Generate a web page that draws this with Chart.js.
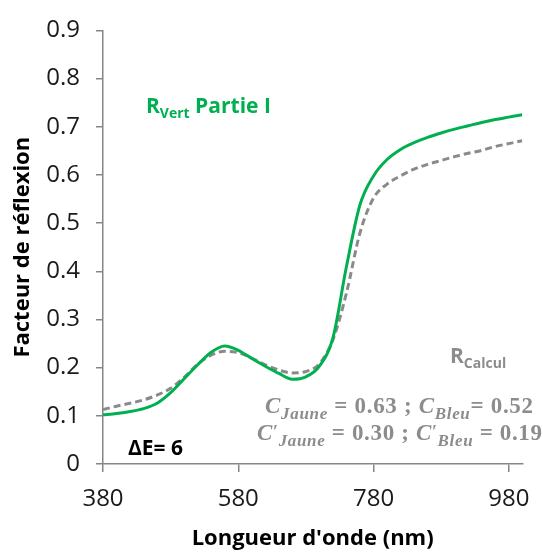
<!DOCTYPE html>
<html><head><meta charset="utf-8">
<script src="https://cdn.jsdelivr.net/npm/chart.js@4/dist/chart.umd.min.js"></script>
<style>html,body{margin:0;padding:0;background:#fff}#wrap{width:543px;height:553px}</style>
</head><body><div id="wrap"><canvas id="c" width="543" height="553"></canvas></div>
<script>
// Wavelength (nm)
const wavelengths = [380,400,420,440,460,480,500,520,540,560,580,600,620,640,660,680,700,720,740,760,780,800,820,840,860,880,900,920,940,960,980,1000];
// Measured reflectance R_Vert (green, solid)
const rVert = [0.102,0.105,0.109,0.115,0.126,0.148,0.177,0.206,0.232,0.245,0.236,0.219,0.203,0.188,0.176,0.181,0.203,0.262,0.410,0.538,0.598,0.632,0.653,0.667,0.678,0.687,0.695,0.702,0.709,0.715,0.720,0.725];
// Calculated reflectance R_Calcul (grey, dashed)
const rCalcul = [0.113,0.120,0.126,0.133,0.143,0.157,0.180,0.207,0.226,0.234,0.231,0.220,0.206,0.195,0.189,0.192,0.208,0.258,0.355,0.480,0.552,0.581,0.598,0.612,0.622,0.630,0.638,0.645,0.651,0.659,0.665,0.671];
const xTicks = [380,580,780,980];
const yTicks = [0,0.1,0.2,0.3,0.4,0.5,0.6,0.7,0.8,0.9];

const GREEN = '#00B050', GREY = '#8C8C8C', AXIS = '#868686';
const MATHFONT = '"Liberation Serif"';

function drawRuns(ctx, x, y, runs, ls){
  ls = ls || 0;
  let cx = x;
  for (const r of runs){
    ctx.font = r.font; ctx.fillStyle = r.color;
    for (const ch of r.t){
      ctx.fillText(ch, cx, y + (r.dy||0));
      cx += ctx.measureText(ch).width + ls;
    }
  }
  return cx - x;
}
function measureRuns(ctx, runs){let w=0,n=0;for(const r of runs){ctx.font=r.font;for(const ch of r.t){w+=ctx.measureText(ch).width;n++;}}return {w,n};}
function mathRuns(size, parts){
  const out=[];
  for (const p of parts){
    if (p.k==='C') out.push({t:p.t, font:`italic bold ${size}px ${MATHFONT}`, color:GREY});
    else if (p.k==='sub') out.push({t:p.t, font:`italic bold ${Math.round(size*0.72)}px ${MATHFONT}`, color:GREY, dy:size*0.28});
    else if (p.k==='sup') out.push({t:p.t, font:`bold ${Math.round(size*0.8)}px ${MATHFONT}`, color:GREY, dy:-size*0.1});
    else out.push({t:p.t, font:`bold ${size}px ${MATHFONT}`, color:GREY});
  }
  return out;
}

const annot = {
  id:'annot',
  afterDatasetsDraw(chart){
    const ctx = chart.ctx;
    ctx.save();
    ctx.textBaseline = 'alphabetic'; ctx.textAlign='left';
    drawRuns(ctx, 146, 113, [
      {t:'R', font:'bold 21px "Open Sans"', color:GREEN},
      {t:'Vert', font:'bold 14px "Open Sans"', color:GREEN, dy:5},
      {t:' Partie I', font:'bold 21px "Open Sans"', color:GREEN}
    ]);
    drawRuns(ctx, 450, 363, [
      {t:'R', font:'bold 21px "Open Sans"', color:GREY},
      {t:'Calcul', font:'bold 14px "Open Sans"', color:GREY, dy:5}
    ]);
    drawRuns(ctx, 128, 455, [{t:'ΔE= 6', font:'bold 21px "Open Sans"', color:'#000'}]);
    const size = 23;
    const r1 = mathRuns(size,[{k:'C',t:'C'},{k:'sub',t:'Jaune'},{k:'n',t:' = 0.63 ; '},{k:'C',t:'C'},{k:'sub',t:'Bleu'},{k:'n',t:'= 0.52'}]);
    const r2 = mathRuns(size,[{k:'C',t:'C'},{k:'sup',t:'′'},{k:'sub',t:'Jaune'},{k:'n',t:' = 0.30 ; '},{k:'C',t:'C'},{k:'sup',t:'′'},{k:'sub',t:'Bleu'},{k:'n',t:' = 0.19'}]);
    const m1 = measureRuns(ctx, r1), m2 = measureRuns(ctx, r2);
    const ls1 = (268 - m1.w)/(m1.n-1), ls2 = (285 - m2.w)/(m2.n-1);
    drawRuns(ctx, 265, 413, r1, ls1);
    drawRuns(ctx, 257, 440, r2, ls2);
    ctx.restore();
  }
};

new Chart(document.getElementById('c'), {
  type:'line',
  data:{
    datasets:[
      {label:'R Vert Partie I', data: wavelengths.map((w,i)=>({x:w,y:rVert[i]})), borderColor:GREEN, borderWidth:3, pointRadius:0, cubicInterpolationMode:'monotone', fill:false},
      {label:'R Calcul', data: wavelengths.map((w,i)=>({x:w,y:rCalcul[i]})), borderColor:'#8A8A8A', borderWidth:3, borderDash:[7,4], pointRadius:0, cubicInterpolationMode:'monotone', fill:false}
    ]
  },
  options:{
    responsive:false, animation:false, devicePixelRatio:1,
    layout:{padding:{left:0,right:20,top:22,bottom:0}},
    plugins:{legend:{display:false}, tooltip:{enabled:false}},
    scales:{
      x:{
        type:'linear', min:380, max:1000,
        afterBuildTicks(s){ s.ticks = xTicks.map(v=>({value:v})); },
        afterFit(s){ s.height = 89; },
        grid:{drawOnChartArea:false, drawTicks:true, tickLength:8, color:AXIS, lineWidth:1.5},
        border:{display:true, color:AXIS, width:1.5},
        ticks:{font:{family:'"Open Sans"', size:24}, color:'#1a1a1a', padding:13, maxRotation:0, autoSkip:false},
        title:{display:true, text:"Longueur d'onde (nm)", font:{family:'"Open Sans"', size:22, weight:'bold'}, color:'#000', padding:{top:0,bottom:1}}
      },
      y:{
        type:'linear', min:0, max:0.9,
        afterBuildTicks(s){ s.ticks = yTicks.map(v=>({value:v})); },
        afterFit(s){ s.width = 103; },
        grid:{drawOnChartArea:false, drawTicks:true, tickLength:7, color:AXIS, lineWidth:1.5},
        border:{display:true, color:AXIS, width:1.5},
        ticks:{font:{family:'"Open Sans"', size:24}, color:'#1a1a1a', padding:16, callback:v=> v===0?'0':v.toFixed(1)},
        title:{display:true, text:'Facteur de réflexion', font:{family:'"Open Sans"', size:22, weight:'bold'}, color:'#000', padding:{top:10,bottom:0}}
      }
    }
  },
  plugins:[annot]
});
</script></body></html>
